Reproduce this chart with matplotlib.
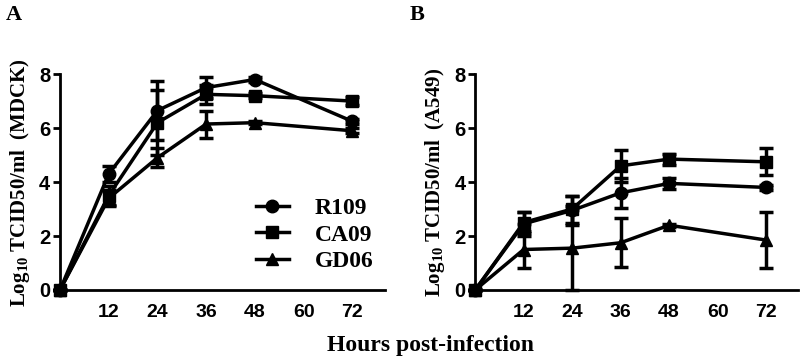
import matplotlib.pyplot as plt

plt.rcParams['mathtext.fontset'] = 'custom'
plt.rcParams['mathtext.bf'] = 'Liberation Serif:bold'
plt.rcParams['mathtext.rm'] = 'Liberation Serif'

hours = [0, 12, 24, 36, 48, 72]
strains = ['R109', 'CA09', 'GD06']
markers = ['o', 's', '^']

# panel A: MDCK
mdck_mean = {
    'R109': [0, 4.3, 6.65, 7.5, 7.8, 6.25],
    'CA09': [0, 3.5, 6.2, 7.25, 7.2, 7.0],
    'GD06': [0, 3.4, 4.9, 6.15, 6.2, 5.9],
}
mdck_err = {
    'R109': [0, 0.3, 1.1, 0.4, 0.1, 0.1],
    'CA09': [0, 0.35, 1.2, 0.35, 0.1, 0.15],
    'GD06': [0, 0.3, 0.35, 0.5, 0.05, 0.1],
}

# panel B: A549
a549_mean = {
    'R109': [0, 2.45, 2.95, 3.6, 3.95, 3.8],
    'CA09': [0, 2.5, 3.0, 4.6, 4.85, 4.75],
    'GD06': [0, 1.5, 1.55, 1.75, 2.4, 1.85],
}
a549_err = {
    'R109': [0, 0.45, 0.55, 0.55, 0.2, 0.1],
    'CA09': [0, 0.4, 0.5, 0.6, 0.2, 0.5],
    'GD06': [0, 0.7, 1.55, 0.9, 0.05, 1.05],
}

serif = 'Liberation Serif'
sans = 'Liberation Sans'

fig = plt.figure(figsize=(8, 3.58), dpi=100)
ax_a = fig.add_axes([0.075, 0.19, 0.406, 0.603])
ax_b = fig.add_axes([0.594, 0.19, 0.404, 0.603])


def draw(ax, means, errs, ylabel):
    for name, m in zip(strains, markers):
        ax.errorbar(hours, means[name], yerr=errs[name], color='black',
                    marker=m, markersize=9, linewidth=2.5, elinewidth=2.5,
                    capsize=5, capthick=2.5, clip_on=False, label=name,
                    zorder=3)
    ax.set_xlim(0, 80)
    ax.set_ylim(0, 8)
    ax.set_yticks([0, 2, 4, 6, 8])
    ax.set_xticks([12, 24, 36, 48, 60, 72])
    for side in ('top', 'right'):
        ax.spines[side].set_visible(False)
    for side in ('left', 'bottom'):
        ax.spines[side].set_linewidth(2)
    ax.tick_params(axis='y', length=5, width=2, labelsize=14.5, pad=2)
    ax.tick_params(axis='x', length=0, labelsize=14, pad=10)
    for lab in ax.get_xticklabels() + ax.get_yticklabels():
        lab.set_fontfamily(sans)
        lab.set_fontweight('bold')
    ax.set_ylabel(ylabel, fontfamily=serif, fontweight='bold', fontsize=15,
                  labelpad=5)


draw(ax_a, mdck_mean, mdck_err, r'Log$_{\mathbf{10}}$ TCID50/ml  (MDCK)')
draw(ax_b, a549_mean, a549_err, r'Log$_{\mathbf{10}}$ TCID50/ml  (A549)')

handles, labels = ax_a.get_legend_handles_labels()
handles = [h[0] for h in handles]
ax_a.legend(handles, labels, loc='lower right', bbox_to_anchor=(1.03, -0.015),
            frameon=False, handlelength=1.4, handletextpad=1.1,
            labelspacing=0.2,
            prop={'family': serif, 'weight': 'bold', 'size': 17})

fig.text(0.007, 0.985, 'A', fontfamily=serif, fontweight='bold', fontsize=16,
         va='top')
fig.text(0.512, 0.985, 'B', fontfamily=serif, fontweight='bold', fontsize=16,
         va='top')
fig.text(0.538, 0.035, 'Hours post-infection', fontfamily=serif,
         fontweight='bold', fontsize=17, ha='center', va='center')

fig.savefig('out.png', dpi=100)
